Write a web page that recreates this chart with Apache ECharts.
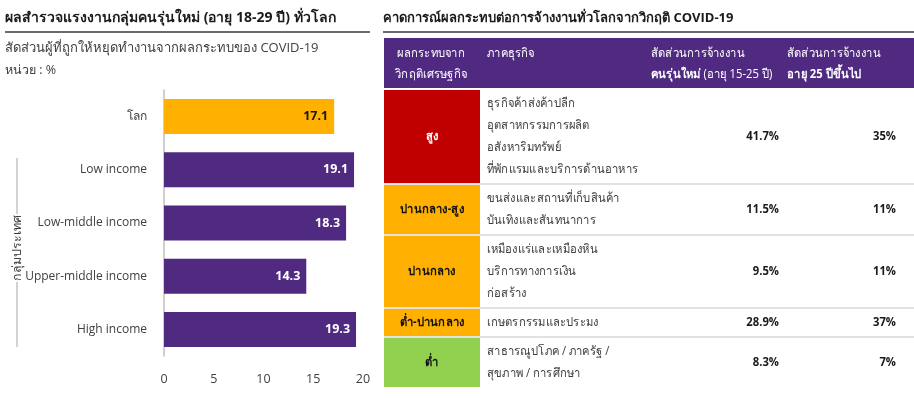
<!DOCTYPE html>
<html>
<head>
<meta charset="utf-8">
<script src="https://cdn.jsdelivr.net/npm/echarts@6/dist/echarts.min.js"></script>
<style>
  html, body { margin: 0; padding: 0; background: #fff; }
  #chart { width: 914px; height: 398px; }
</style>
</head>
<body>
<div id="chart"></div>
<script>
// left chart data
const countryGroups = ['โลก', 'Low income', 'Low-middle income', 'Upper-middle income', 'High income']
const stoppedWorkShare = [17.1, 19.1, 18.3, 14.3, 19.3]
const xTicks = [0, 5, 10, 15, 20]

// right table data
const impactLevels = ['สูง', 'ปานกลาง-สูง', 'ปานกลาง', 'ต่ำ-ปานกลาง', 'ต่ำ']
const sectors = [
  ['ธุรกิจค้าส่งค้าปลีก', 'อุตสาหกรรมการผลิต', 'อสังหาริมทรัพย์', 'ที่พักแรมและบริการด้านอาหาร'],
  ['ขนส่งและสถานที่เก็บสินค้า', 'บันเทิงและสันทนาการ'],
  ['เหมืองแร่และเหมืองหิน', 'บริการทางการเงิน', 'ก่อสร้าง'],
  ['เกษตรกรรมและประมง'],
  ['สาธารณูปโภค / ภาครัฐ /', 'สุขภาพ / การศึกษา']
]
const youthShare = [41.7, 11.5, 9.5, 28.9, 8.3]
const adultShare = [35, 11, 11, 37, 7]

const FONT = "'Open Sans', 'Noto Sans', sans-serif"
const PURPLE = '#4f2a80'
const ORANGE = '#ffb000'
const levelColors = ['#c00000', ORANGE, ORANGE, ORANGE, '#92d050']
const levelText = ['#ffffff', '#111111', '#111111', '#111111', '#111111']
const SQ = 0.9 // horizontal squeeze for the table text

function txt(x, y, text, opts, el) {
  return Object.assign({
    type: 'text', x: x, y: y, silent: true,
    style: Object.assign({
      text: text, fill: '#404040', font: '13px ' + FONT,
      textAlign: 'left', textVerticalAlign: 'middle'
    }, opts || {})
  }, el || {})
}

function line(x1, y1, x2, y2, color, w) {
  return { type: 'line', silent: true, shape: { x1, y1, x2, y2 }, style: { stroke: color, lineWidth: w } }
}

function buildTable() {
  const g = []
  const left = 384, right = 914
  const col1R = 480, col2X = 487, col3R = 779, col4R = 896, col3X = 651, col4X = 787
  const lineH = 22
  const sq = { scaleX: SQ }
  const f = '12.5px ' + FONT
  const fb = 'bold 12.5px ' + FONT

  // header
  g.push(line(383, 32, 914, 32, '#3a3a3a', 1.5))
  g.push(txt(383, 18, 'คาดการณ์ผลกระทบต่อการจ้างงานทั่วโลกจากวิกฤติ COVID-19', { fill: '#1a1a1a', font: 'bold 13px ' + FONT }))
  g.push({ type: 'rect', silent: true, shape: { x: left, y: 38, width: right - left, height: 50 }, style: { fill: PURPLE } })
  g.push(txt(431, 53, 'ผลกระทบจาก', { fill: '#fff', font: f, textAlign: 'center' }, sq))
  g.push(txt(431, 74, 'วิกฤติเศรษฐกิจ', { fill: '#fff', font: f, textAlign: 'center' }, sq))
  g.push(txt(col2X, 53, 'ภาคธุรกิจ', { fill: '#fff', font: f }, sq))
  g.push(txt(col3X, 53, 'สัดส่วนการจ้างงาน', { fill: '#fff', font: f }, sq))
  g.push({
    type: 'text', x: col3X, y: 74, silent: true, scaleX: SQ,
    style: {
      text: '{b|คนรุ่นใหม่} {n|(อายุ 15-25 ปี)}', textVerticalAlign: 'middle',
      rich: {
        b: { fill: '#fff', font: fb },
        n: { fill: '#fff', font: f }
      }
    }
  })
  g.push(txt(col4X, 53, 'สัดส่วนการจ้างงาน', { fill: '#fff', font: f }, sq))
  g.push(txt(col4X, 74, 'อายุ 25 ปีขึ้นไป', { fill: '#fff', font: fb }, sq))

  // rows
  let y = 90
  impactLevels.forEach((lvl, i) => {
    const n = sectors[i].length
    const h = n * lineH + 5
    const mid = y + h / 2
    g.push({ type: 'rect', silent: true, shape: { x: left, y: y, width: col1R - left, height: h }, style: { fill: levelColors[i] } })
    g.push(txt((left + col1R) / 2, mid, lvl, { fill: levelText[i], font: fb, textAlign: 'center' }, sq))
    sectors[i].forEach((s, k) => {
      g.push(txt(col2X, mid + (k - (n - 1) / 2) * lineH, s, { fill: '#404040', font: f }, sq))
    })
    g.push(txt(col3R, mid, youthShare[i].toFixed(1) + '%', { fill: '#1a1a1a', font: fb, textAlign: 'right' }, sq))
    g.push(txt(col4R, mid, adultShare[i] + '%', { fill: '#1a1a1a', font: fb, textAlign: 'right' }, sq))
    y += h
    if (i < impactLevels.length - 1) {
      g.push(line(left, y + 1, right, y + 1, '#d9d9d9', 1.5))
      y += 2
    }
  })
  return g
}

const chart = echarts.init(document.getElementById('chart'))

chart.setOption({
  animation: false,
  textStyle: { fontFamily: FONT },
  grid: { left: 164, top: 90, width: 199, height: 266 },
  xAxis: {
    type: 'value',
    min: xTicks[0],
    max: xTicks[xTicks.length - 1],
    interval: xTicks[1] - xTicks[0],
    axisLine: { show: false },
    axisTick: { show: false },
    splitLine: { show: false },
    axisLabel: { color: '#404040', fontSize: 12.5, margin: 17 }
  },
  yAxis: {
    type: 'category',
    data: countryGroups,
    inverse: true,
    axisLine: { lineStyle: { color: '#bfbfbf', width: 1.5 } },
    axisTick: { show: false },
    axisLabel: { color: '#404040', fontSize: 12, margin: 17 }
  },
  series: [
    {
      type: 'bar',
      barWidth: 35,
      data: stoppedWorkShare.map((v, i) => ({
        value: v,
        itemStyle: { color: i === 0 ? ORANGE : PURPLE },
        label: { color: i === 0 ? '#1a1a1a' : '#ffffff' }
      })),
      label: {
        show: true,
        position: 'insideRight',
        distance: 6,
        fontWeight: 'bold',
        fontSize: 12.5,
        formatter: (p) => p.value.toFixed(1)
      }
    }
  ],
  graphic: [
    txt(5, 18, 'ผลสำรวจแรงงานกลุ่มคนรุ่นใหม่ (อายุ 18-29 ปี) ทั่วโลก', { fill: '#1a1a1a', font: 'bold 14px ' + FONT }),
    line(5, 32, 370, 32, '#3a3a3a', 1.5),
    txt(5, 48, 'สัดส่วนผู้ที่ถูกให้หยุดทำงานจากผลกระทบของ COVID-19', { font: '13px ' + FONT }),
    txt(5, 70, 'หน่วย : %', { font: '12.5px ' + FONT }),
    line(17, 158, 17, 214, '#a6a6a6', 1),
    line(17, 282, 17, 347, '#a6a6a6', 1),
    txt(17, 248, 'กลุ่มประเทศ', { font: '12.5px ' + FONT, textAlign: 'center' }, { rotation: Math.PI / 2 }),
    ...buildTable()
  ]
})
</script>
</body>
</html>
